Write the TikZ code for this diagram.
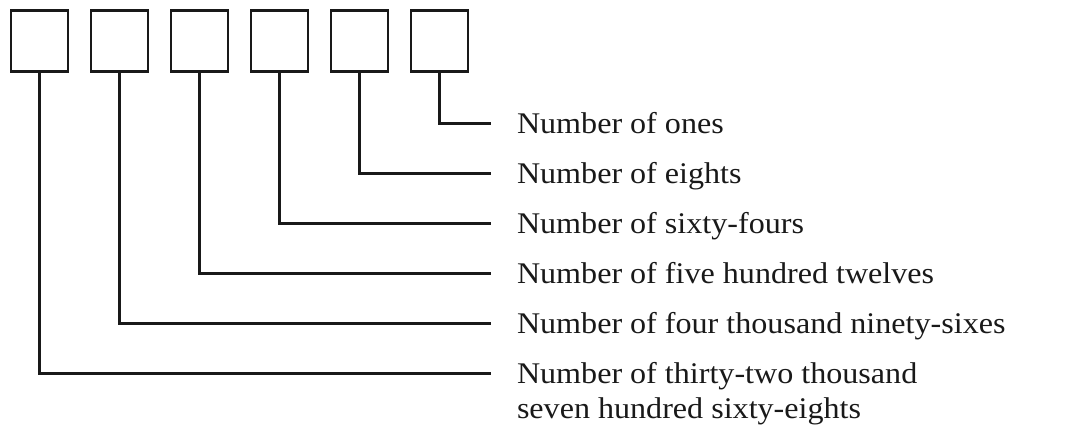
\documentclass[tikz,border=0pt]{standalone}
\usepackage{fontspec}
\setmainfont[FakeStretch=1.07]{Liberation Serif}
\begin{document}
\begin{tikzpicture}[x=1pt,y=-1pt,
  digit/.style={draw=black!90,line width=2.6pt,minimum width=57pt,minimum height=61pt,inner sep=0pt,outer sep=0pt},
  lab/.style={anchor=base west,inner sep=0pt,outer sep=0pt,text=black!90,font=\fontsize{30}{35}\selectfont},
  conn/.style={draw=black!90,line width=2.5pt}]
\useasboundingbox (0,0) rectangle (1091,432);
\foreach \i/\x in {1/39.5,2/119.5,3/199.5,4/279.5,5/359.5,6/439.5}
  \node[digit] (b\i) at (\x,40.8) {};
\node[lab] (l6) at (517,133.3) {Number of ones};
\node[lab] (l5) at (517,183.3) {Number of eights};
\node[lab] (l4) at (517,233.3) {Number of sixty-fours};
\node[lab] (l3) at (517,283.3) {Number of five hundred twelves};
\node[lab] (l2) at (517,333.3) {Number of four thousand ninety-sixes};
\node[lab] (l1) at (517,383.3) {\begin{tabular}[t]{@{}l@{}}Number of thirty-two thousand\\seven hundred sixty-eights\end{tabular}};
\foreach \i in {1,...,6}
  \draw[conn] (b\i.south) |- ([shift={(-26.3pt,10pt)}]l\i.base west);
\end{tikzpicture}
\end{document}
